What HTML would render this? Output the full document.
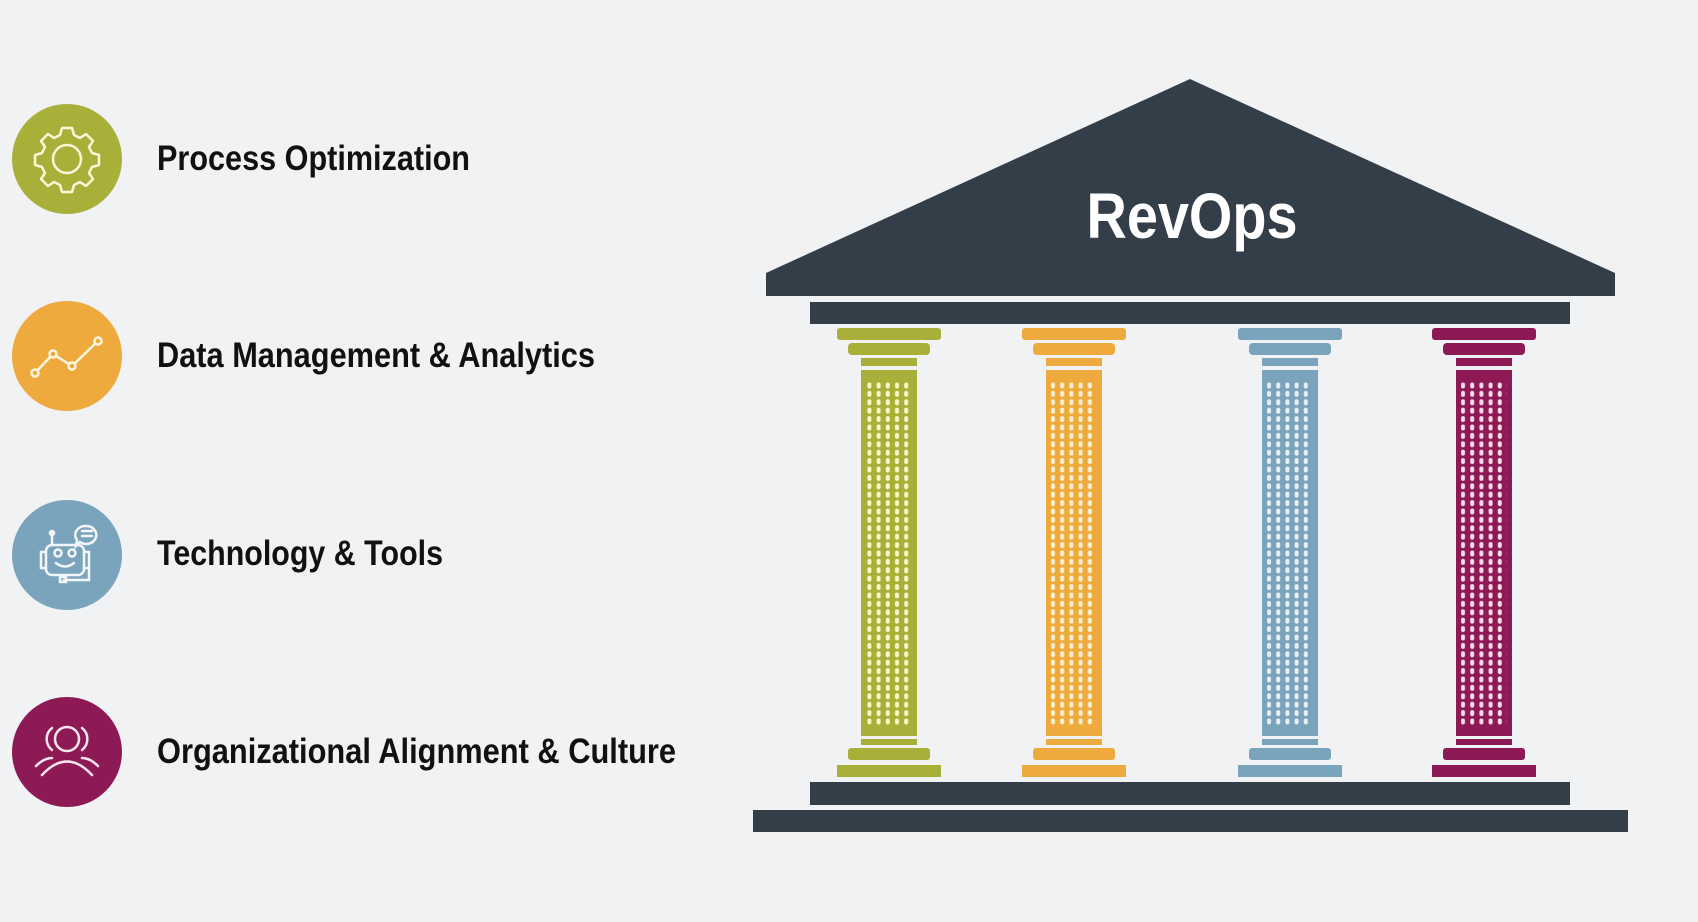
<!DOCTYPE html>
<html><head><meta charset="utf-8"><style>
html,body{margin:0;padding:0;background:#f1f2f4;}
svg{display:block;}
text{font-family:"Liberation Sans Narrow","Liberation Sans",sans-serif;font-weight:bold;}
</style></head><body>
<svg width="1698" height="922" viewBox="0 0 1698 922" xmlns="http://www.w3.org/2000/svg">
<defs>
<pattern id="dots" x="0" y="382" width="9.2" height="8.4" patternUnits="userSpaceOnUse">
<rect x="2.6" y="0.5" width="4" height="6" rx="2" fill="#fbf6c8"/>
</pattern>
</defs>
<rect width="1698" height="922" fill="#f1f2f4"/>

<!-- Left list -->
<circle cx="67" cy="159" r="55" fill="#a9b03a"/>
<g fill="none" stroke="#fbf6d8" stroke-width="2.5" stroke-linejoin="round">
<path d="M62,128 h10 l2,7 l6,3 l6,-4 l7,7 l-4,6 l3,6 l7,2 v10 l-7,2 l-3,6 l4,6 l-7,7 l-6,-4 l-6,3 l-2,7 h-10 l-2,-7 l-6,-3 l-6,4 l-7,-7 l4,-6 l-3,-6 l-7,-2 v-10 l7,-2 l3,-6 l-4,-6 l7,-7 l6,4 l6,-3 z" transform="translate(-0,0)"/>
<circle cx="67" cy="159" r="14"/>
</g>
<text x="157" y="170" font-size="35" textLength="313" lengthAdjust="spacingAndGlyphs" fill="#111">Process Optimization</text>

<circle cx="67" cy="356" r="55" fill="#eeaa3c"/>
<g fill="none" stroke="#fff6e0" stroke-width="2.5">
<polyline points="35,373 53,354 72,366 98,341"/>
<circle cx="35" cy="373" r="3.5" fill="#eeaa3c"/><circle cx="53" cy="354" r="3.5" fill="#eeaa3c"/><circle cx="72" cy="366" r="3.5" fill="#eeaa3c"/><circle cx="98" cy="341" r="3.5" fill="#eeaa3c"/>
</g>
<text x="157" y="367" font-size="35" textLength="438" lengthAdjust="spacingAndGlyphs" fill="#111">Data Management &amp; Analytics</text>

<circle cx="67" cy="555" r="55" fill="#7aa3bc"/>
<g fill="none" stroke="#f2f6f8" stroke-width="2.5" stroke-linecap="round">
<rect x="46" y="545" width="38" height="30" rx="6"/>
<path d="M46,552 h-5 v16 h5 M84,552 h5 v16 h-5"/>
<line x1="52" y1="545" x2="52" y2="535"/><circle cx="52" cy="533" r="2" fill="#f2f6f8"/>
<circle cx="58" cy="553" r="3.5"/><circle cx="72" cy="553" r="3.5"/>
<path d="M56,563 q9,7 18,0"/>
<path d="M89,568 v12 h-25"/><rect x="60" y="577" width="6" height="5"/>
<path d="M86,526 a10,9 0 1 1 -6,16 l-4,4 l1,-6 a10,9 0 0 1 9,-14 z"/>
<line x1="82" y1="531" x2="92" y2="531"/><line x1="82" y1="536" x2="92" y2="536"/>
</g>
<text x="157" y="565" font-size="35" textLength="286" lengthAdjust="spacingAndGlyphs" fill="#111">Technology &amp; Tools</text>

<circle cx="67" cy="752" r="55" fill="#8e1a55"/>
<g fill="none" stroke="#f8e6ef" stroke-width="2.5" stroke-linecap="round">
<circle cx="67" cy="739" r="12"/>
<path d="M52,728 a14,14 0 0 0 0,22 M82,728 a14,14 0 0 1 0,22"/>
<path d="M42,775 q25,-27 50,0"/>
<path d="M36,766 q8,-8 16,-8 M98,766 q-8,-8 -16,-8"/>
</g>
<text x="157" y="763" font-size="35" textLength="519" lengthAdjust="spacingAndGlyphs" fill="#111">Organizational Alignment &amp; Culture</text>

<!-- Temple -->
<polygon points="1190,79 1615,273 766,273" fill="#343e48"/>
<rect x="766" y="273" width="849" height="23" fill="#343e48"/>
<rect x="810" y="302" width="760" height="22" fill="#343e48"/>
<text x="1192" y="238" font-family="Liberation Sans" font-size="64" text-anchor="middle" textLength="211" lengthAdjust="spacingAndGlyphs" fill="#fff" style="font-family:'Liberation Sans',sans-serif">RevOps</text>

<g id="col1" fill="#a9b03a">
<rect x="837" y="328" width="104" height="12" rx="3"/>
<rect x="848" y="343" width="82" height="12" rx="4"/>
<rect x="861" y="358" width="56" height="8"/>
<rect x="861" y="370" width="56" height="366"/>
<rect x="861" y="739" width="56" height="6"/>
<rect x="848" y="748" width="82" height="12" rx="3"/>
<rect x="837" y="765" width="104" height="12"/>
</g>
<g fill="#eeaa3c">
<rect x="1022" y="328" width="104" height="12" rx="3"/>
<rect x="1033" y="343" width="82" height="12" rx="4"/>
<rect x="1046" y="358" width="56" height="8"/>
<rect x="1046" y="370" width="56" height="366"/>
<rect x="1046" y="739" width="56" height="6"/>
<rect x="1033" y="748" width="82" height="12" rx="3"/>
<rect x="1022" y="765" width="104" height="12"/>
</g>
<g fill="#7aa3bc">
<rect x="1238" y="328" width="104" height="12" rx="3"/>
<rect x="1249" y="343" width="82" height="12" rx="4"/>
<rect x="1262" y="358" width="56" height="8"/>
<rect x="1262" y="370" width="56" height="366"/>
<rect x="1262" y="739" width="56" height="6"/>
<rect x="1249" y="748" width="82" height="12" rx="3"/>
<rect x="1238" y="765" width="104" height="12"/>
</g>
<g fill="#8e1a55">
<rect x="1432" y="328" width="104" height="12" rx="3"/>
<rect x="1443" y="343" width="82" height="12" rx="4"/>
<rect x="1456" y="358" width="56" height="8"/>
<rect x="1456" y="370" width="56" height="366"/>
<rect x="1456" y="739" width="56" height="6"/>
<rect x="1443" y="748" width="82" height="12" rx="3"/>
<rect x="1432" y="765" width="104" height="12"/>
</g>
<!-- dots -->
<g>
<rect x="866" y="382" width="46" height="344" fill="url(#dots)" transform="translate(0,0)"/>
</g>
<rect x="1051" y="382" width="46" height="344" fill="url(#dots2)"/>
<defs>
<pattern id="dots2" x="1048.4" y="382" width="9.2" height="8.4" patternUnits="userSpaceOnUse"><rect x="2.6" y="0.5" width="4" height="6" rx="2" fill="#fdf0d2"/></pattern>
<pattern id="dots3" x="1264.4" y="382" width="9.2" height="8.4" patternUnits="userSpaceOnUse"><rect x="2.6" y="0.5" width="4" height="6" rx="2" fill="#e8f0f4"/></pattern>
<pattern id="dots4" x="1458.4" y="382" width="9.2" height="8.4" patternUnits="userSpaceOnUse"><rect x="2.6" y="0.5" width="4" height="6" rx="2" fill="#f4dce8"/></pattern>
</defs>
<rect x="1267" y="382" width="46" height="344" fill="url(#dots3)"/>
<rect x="1461" y="382" width="46" height="344" fill="url(#dots4)"/>

<rect x="810" y="782" width="760" height="23" fill="#343e48"/>
<rect x="753" y="810" width="875" height="22" fill="#343e48"/>
</svg>
</body></html>
